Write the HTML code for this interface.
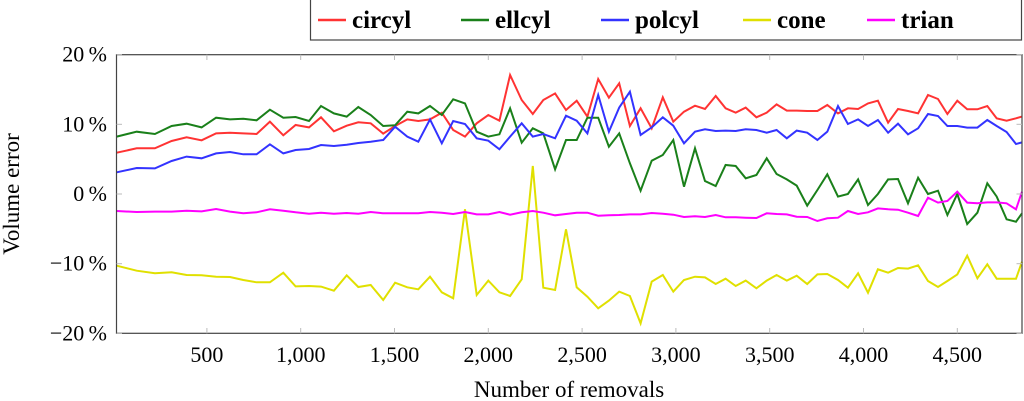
<!DOCTYPE html>
<html><head><meta charset="utf-8"><style>
body{margin:0;background:#fff;}
svg{display:block;font-family:"Liberation Serif",serif;}
</style></head><body>
<svg id="chart" width="1024" height="401" viewBox="0 0 1024 401" xmlns="http://www.w3.org/2000/svg">
<g id="grid"></g>
<g id="series"></g>
<rect x="116.5" y="54.7" width="905.5" height="278.6" fill="none" stroke="#444" stroke-width="1.2"/>
<g id="ticks"></g>
<text x="569" y="397" font-size="23" text-anchor="middle">Number of removals</text>
<text transform="translate(19,194) rotate(-90)" font-size="23" text-anchor="middle">Volume error</text>
<g>
<rect x="310.5" y="-1" width="711" height="41" fill="#fff" stroke="#444" stroke-width="1.2"/>
<g id="legend"></g>
</g>
</svg>
<script>
const xVals=[19,126,223,312,392,472,549,623,694,765,836,907,973,1044,1108,1177,1245,1307,1373,1440,1503,1568,
1627,1689,1752,1813,1876,1938,2000,2059,2116,2178,2237,2293,2356,2414,2471,2528,2586,2643,2698,2755,2812,2871,2930,2986,3043,3102,3155,
3212,3265,3319,3372,3429,3484,3537,3591,3644,3700,3754,3807,3864,3917,3971,4024,4077,4131,4184,4237,4291,4344,4397,4447,4500,4553,4607,4660,4710,4763,4813,4845];
const circyl=[5.93,6.55,6.55,7.60,8.13,7.70,8.70,8.80,8.70,8.61,10.38,8.42,9.90,9.56,11.0,8.99,9.80,10.28,10.14,8.66,9.76,10.71,
10.47,10.71,11.67,9.18,8.23,10.14,11.33,10.52,17.07,13.49,11.48,13.49,14.44,12.05,13.39,11.1,16.5,13.82,15.88,9.76,12.29,9.42,13.87,10.38,11.81,12.67,12.2,
14.06,12.29,11.67,12.39,11.0,11.67,12.86,11.96,11.96,11.91,11.91,12.77,11.57,12.29,12.2,13.0,13.39,10.23,12.2,11.91,11.57,14.2,13.63,11.48,13.39,12.15,12.15,12.63,10.86,10.52,10.86,11.1];
const ellcyl=[8.23,8.94,8.61,9.76,10.09,9.56,10.95,10.71,10.81,10.57,12.1,10.95,11.05,10.47,12.63,11.57,11.1,12.48,11.33,9.76,9.85,11.81,
11.57,12.63,11.33,13.58,13.0,8.94,8.23,8.56,12.29,7.36,9.42,8.7,3.54,7.75,7.75,10.95,10.95,6.79,8.7,4.4,0.48,4.78,5.6,7.75,1.05,6.55,1.87,
1.15,4.16,4.02,2.25,2.73,5.12,2.87,2.1,1.2,-1.67,0.57,2.82,-0.38,0,2.1,-1.58,0,2.1,2.15,-1.34,2.34,0,0.48,-3.01,0,-4.3,-2.68,1.53,-0.38,-3.63,-3.97,-2.77];
const polcyl=[3.11,3.73,3.68,4.73,5.36,5.12,5.83,6.03,5.69,5.69,7.13,5.83,6.31,6.46,7.03,6.89,7.08,7.32,7.51,7.75,9.66,8.23,
7.51,10.71,7.27,10.47,10.04,7.99,7.65,6.41,8.23,10.14,8.23,8.61,7.99,11.24,10.52,8.7,14.2,8.94,12.39,14.68,8.46,9.56,11.0,9.8,7.27,8.94,9.28,
9.04,9.09,9.04,9.28,9.18,8.8,9.18,7.99,9.09,8.8,7.75,8.94,12.63,10.04,10.71,9.76,10.62,8.8,10.09,8.56,9.42,11.48,11.19,9.76,9.76,9.52,9.52,10.62,9.76,8.9,7.17,7.41];
const cone=[-10.28,-11.0,-11.38,-11.24,-11.62,-11.67,-11.86,-11.91,-12.34,-12.67,-12.67,-11.29,-13.25,-13.2,-13.29,-13.87,-11.67,-13.34,-13.06,-15.21,-12.72,-13.39,
-13.68,-11.86,-14.11,-14.97,-2.2,-14.49,-12.43,-14.11,-14.63,-12.24,4.02,-13.44,-13.77,-5.07,-13.39,-14.73,-16.4,-15.3,-14.01,-14.63,-18.56,-12.58,-11.62,-14.01,-12.34,-11.86,-11.96,
-12.91,-12.15,-13.2,-12.43,-13.53,-12.43,-11.62,-12.43,-11.72,-12.91,-11.53,-11.48,-12.34,-13.44,-11.38,-14.16,-10.81,-11.29,-10.62,-10.71,-10.23,-12.48,-13.34,-12.48,-11.53,-8.85,-12.1,-10.09,-12.15,-12.15,-12.15,-9.71];
const trian=[-2.44,-2.58,-2.53,-2.53,-2.39,-2.49,-2.15,-2.53,-2.77,-2.63,-2.2,-2.39,-2.63,-2.82,-2.68,-2.82,-2.73,-2.82,-2.58,-2.77,-2.77,-2.77,
-2.77,-2.58,-2.68,-2.87,-2.58,-2.92,-2.92,-2.58,-2.97,-2.63,-2.44,-2.68,-3.06,-2.87,-2.68,-2.68,-3.11,-3.06,-3.01,-2.92,-2.92,-2.73,-2.82,-2.97,-3.3,-3.2,-3.3,
-3.01,-3.35,-3.35,-3.4,-3.44,-2.77,-2.87,-2.92,-3.25,-3.3,-3.87,-3.49,-3.4,-2.44,-2.87,-2.63,-2.06,-2.2,-2.25,-2.68,-3.16,-0.53,-1.24,-1.0,0.33,-1.24,-1.34,-1.2,-1.2,-1.34,-2.2,0.33];
const seriesNames=["circyl","ellcyl","polcyl","cone","trian"];
const xTicks=[500,1000,1500,2000,2500,3000,3500,4000,4500];
const xTickLabels=["500","1,000","1,500","2,000","2,500","3,000","3,500","4,000","4,500"];
const yTicks=[-20,-10,0,10,20];
const yTickLabels=["\u221220\u2009%","\u221210\u2009%","0\u2009%","10\u2009%","20\u2009%"];

const NS="http://www.w3.org/2000/svg";
const xs=v=>113.1+v*0.1876;
const ys=v=>194-v*6.97;
const colors=["#ff3333","#1a801a","#3333ff","#e0e000","#ff00ff"];
const data=[circyl,ellcyl,polcyl,cone,trian];
function mk(tag,attrs,parent){const e=document.createElementNS(NS,tag);for(const k in attrs)e.setAttribute(k,attrs[k]);parent.appendChild(e);return e;}
const tk=document.getElementById('ticks');
xTicks.forEach((t,i)=>{
  const x=xs(t);
  const a=mk('line',{x1:x,x2:x,y1:333.3,y2:328,stroke:'#bbb','stroke-width':1},tk);
  
  
  const b=mk('line',{x1:x,x2:x,y1:54.7,y2:60,stroke:'#bbb','stroke-width':1},tk);
  
  
  const l=mk('text',{x:x,y:362,'font-size':22,'text-anchor':'middle'},tk);
  l.textContent=xTickLabels[i];
  
  
});
yTicks.forEach((t,i)=>{
  const y=ys(t);
  const a=mk('line',{x1:116.5,x2:122,y1:y,y2:y,stroke:'#bbb','stroke-width':1},tk);
  
  
  const b=mk('line',{x1:1016.5,x2:1022,y1:y,y2:y,stroke:'#bbb','stroke-width':1},tk);
  
  
  const l=mk('text',{x:107,y:y+7,'font-size':22,'text-anchor':'end'},tk);
  l.textContent=yTickLabels[i];
  
  
});
const sg=document.getElementById('series');
data.forEach((arr,si)=>{
  const pts=arr.map((v,i)=>xs(xVals[i]).toFixed(1)+','+ys(v).toFixed(1)).join(' ');
  const p=mk('polyline',{points:pts,fill:'none',stroke:colors[si],'stroke-width':2,'stroke-linejoin':'miter'},sg);
  
  
});
const lg=document.getElementById('legend');
const lx=[318,461,601,743,867];
seriesNames.forEach((n,i)=>{
  const l=mk('line',{x1:lx[i],x2:lx[i]+28,y1:20,y2:20,stroke:colors[i],'stroke-width':2.5},lg);
  
  
  const t=mk('text',{x:lx[i]+34,y:28,'font-size':25,'font-weight':'bold'},lg);
  t.textContent=n;
  
  
});
</script>
</body></html>
